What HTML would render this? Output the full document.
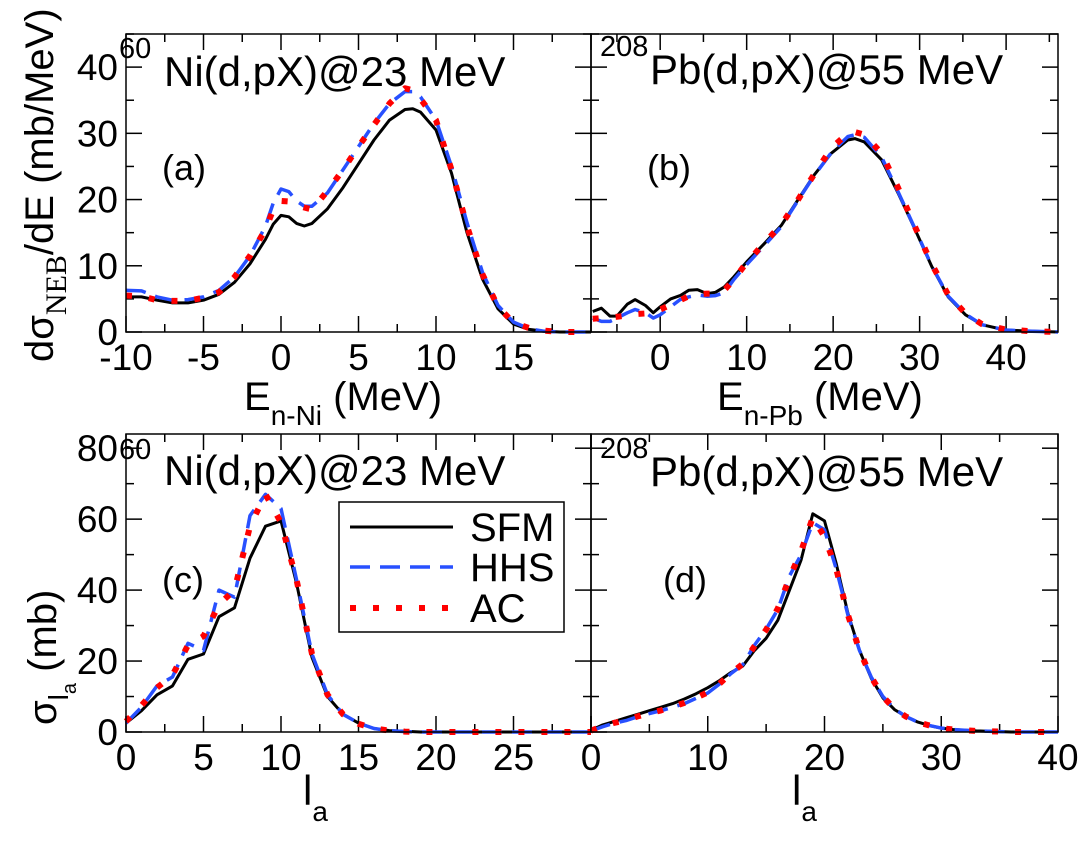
<!DOCTYPE html>
<html><head><meta charset="utf-8"><style>
html,body{margin:0;padding:0;background:#fff}
svg{display:block;font-family:"Liberation Sans",sans-serif}
</style></head><body>
<svg id="fig" width="1081" height="841" viewBox="0 0 1081 841">
<g id="layer"></g>
<g font-family="Liberation Sans, sans-serif" fill="#000">
  <text x="119" y="58" font-size="29">60</text>
  <text x="164" y="86" font-size="42">Ni(d,pX)@23 MeV</text>
  <text x="600" y="56" font-size="29">208</text>
  <text x="650" y="84" font-size="42">Pb(d,pX)@55 MeV</text>
  <text x="119" y="459" font-size="29">60</text>
  <text x="164" y="485" font-size="42">Ni(d,pX)@23 MeV</text>
  <text x="600" y="458" font-size="29">208</text>
  <text x="650" y="486" font-size="42">Pb(d,pX)@55 MeV</text>
  <text x="162" y="180" font-size="36">(a)</text>
  <text x="647" y="180" font-size="36">(b)</text>
  <text x="162" y="592" font-size="36">(c)</text>
  <text x="663" y="592" font-size="36">(d)</text>
  <text x="244" y="410" font-size="40">E<tspan font-size="28" dy="15">n-Ni</tspan><tspan dy="-15"> (MeV)</tspan></text>
  <text x="717" y="410" font-size="40">E<tspan font-size="28" dy="15">n-Pb</tspan><tspan dy="-15"> (MeV)</tspan></text>
  <text x="303" y="805" font-size="42">l<tspan font-size="28" dy="16">a</tspan></text>
  <text x="792" y="805" font-size="42">l<tspan font-size="28" dy="16">a</tspan></text>
  <text transform="translate(53,362) rotate(-90)" font-size="40">dσ<tspan font-family="Liberation Serif, serif" font-size="30" dy="13">NEB</tspan><tspan dy="-13">/dE (mb/MeV)</tspan></text>
  <text transform="translate(56,725) rotate(-90)" font-size="40">σ<tspan font-size="28" dy="12">l</tspan><tspan font-size="20" dy="8">a</tspan><tspan dy="-20">  (mb)</tspan></text>
  <g>
    <rect x="339" y="502" width="225" height="130" fill="#fff" stroke="#000" stroke-width="1.5"/>
    <line x1="350" y1="527" x2="453" y2="527" stroke="#000" stroke-width="3"/>
    <line x1="350" y1="567" x2="453" y2="567" stroke="#2850ff" stroke-width="3.5" stroke-dasharray="20 10"/>
    <line x1="350" y1="608" x2="453" y2="608" stroke="#ff0000" stroke-width="6" stroke-dasharray="6 17"/>
    <text x="470" y="541" font-size="40">SFM</text>
    <text x="470" y="581" font-size="40">HHS</text>
    <text x="470" y="622" font-size="40">AC</text>
  </g>
</g>
</svg>
<script>
// ---- data ----
const aX   = [-10,-9,-8,-7,-6,-5,-4,-3,-2,-1,-0.5,0,0.5,1,1.5,2,3,4,5,6,7,8,8.5,9,10,11,12,13,14,15,16,17,18,20];
const aSFM = [5.3,5.3,4.8,4.4,4.4,4.8,5.7,7.5,10.3,14,16.3,17.6,17.4,16.4,16.0,16.4,18.6,21.8,25.4,29,32,33.6,33.7,33.2,30.5,24,15,8,3.5,1.2,0.4,0.1,0,0];
const aHHS = [6.3,6.2,5.3,4.8,4.9,5.3,6.3,8.3,11.5,16,19.5,21.6,21.2,19.8,19,19,21,24.5,28,31.5,34.5,36.3,36.3,35.5,32,25,16.5,9,4,1.5,0.5,0.1,0,0];
const aAC  = [5.5,5.4,4.8,4.7,4.7,5.2,6,8.3,11.5,15.5,18.5,19.8,19.7,19.2,18.8,18.5,21.3,24.5,28,31.3,34.5,36.8,36.5,35.2,32,24.5,16,8.7,3.8,1.4,0.6,0.2,0,0];

const bX   = [-7.8,-6.8,-5.8,-5,-3.8,-2.9,-1.7,-0.8,0,1.2,2.3,3.3,4.3,5.4,6.4,7.4,8.5,10,12,14,15.9,17.8,19.8,21.7,22.5,23.6,25.6,27.5,29.5,31.4,33.3,35.3,37.2,39.9,43,46];
const bSFM = [3.1,3.6,2.4,2.4,4.2,4.9,4.0,2.9,3.8,5.0,5.5,6.3,6.4,5.8,6.0,6.8,8.3,10.6,13.3,16.1,19.9,23.7,27,29,29.2,28.7,26,21,15.4,9.9,5.3,2.6,1.1,0.3,0.1,0];
const bHHS = [2.1,1.6,1.6,2.1,2.9,3.4,2.9,2.1,2.6,3.8,4.9,5.3,5.6,5.4,5.5,5.9,7.9,10.2,13.0,15.9,19.8,23.6,27.1,29.5,29.8,29.4,26.4,21.2,15.5,10,5.4,2.7,1.1,0.3,0.1,0];
const bAC  = [2.0,2.1,2.2,2.3,2.5,2.7,2.8,3.0,3.4,4.1,4.8,5.4,5.7,5.8,5.8,6.3,7.9,10.5,13.4,16.2,19.9,23.8,27.8,30.0,30.2,29.8,27.0,21.8,15.8,10.3,5.6,2.8,1.2,0.4,0.1,0];

const cL   = [0,1,2,3,4,5,6,7,8,9,10,11,12,13,14,15,16,17,18,19,20,21,22,23,24,25,26,27,28,29,30];
const cSFM = [2.5,6,10.5,13,20.5,22,32.5,35,49,58,59.5,42,21,10,5,2.5,1,0.4,0.2,0,0,0,0,0,0,0,0,0,0,0,0];
const cHHS = [2.5,7,13,15.5,25,23,40,38,61,67,63,43,22,10.5,5,2.5,1,0.4,0.1,0,0,0,0,0,0,0,0,0,0,0,0];
const cAC  = [3,7.5,12.5,16,24.5,27,36,40,58,67,59,43,22,10.5,5,2.3,1,0.4,0.1,0,0,0,0,0,0,0,0,0,0,0,0];

const dL   = [0,1,2,3,4,5,6,7,8,9,10,11,12,13,14,15,16,17,18,19,20,21,22,23,24,25,26,27,28,29,30,31,32,33,34,35,36,37,38,39,40];
const dSFM = [0.5,2,3,4,5,6,7,8,9.3,10.8,12.5,14.5,16.8,18.6,23,26.4,31.5,40,48.5,61.5,59.5,47.5,33.5,23,15.2,9.6,6.3,4.3,2.8,1.8,1.1,0.7,0.5,0.3,0.2,0.1,0,0,0,0,0];
const dHHS = [0.3,1.5,2.5,3.2,4.3,5.2,6,7,8,9.5,11,13.5,16.5,19,24.5,29,34.5,44,50,59,57,46,33,23,15.5,10,6.5,4.3,2.8,1.8,1.1,0.7,0.5,0.3,0.2,0.1,0,0,0,0,0];
const dAC  = [0.4,1.6,2.6,3.3,4.4,5.3,6.1,7.1,8.2,9.6,11.2,13.6,16.6,19.2,24.2,28.8,34.8,43.5,51,60.5,55,46,33,23,15.5,10,6.5,4.3,2.8,1.8,1.1,0.7,0.5,0.3,0.2,0.1,0,0,0,0,0];

const aTicks = ["-10","-5","0","5","10","15"];
const bTicks = ["0","10","20","30","40"];
const cTicks = ["0","5","10","15","20","25"];
const dTicks = ["0","10","20","30","40"];
const abYTicks = ["0","10","20","30","40"];
const cdYTicks = ["0","20","40","60","80"];

const NS="http://www.w3.org/2000/svg";
const layer=document.getElementById('layer');
function mk(tag,attrs,parent){const e=document.createElementNS(NS,tag);for(const k in attrs)e.setAttribute(k,attrs[k]);(parent||layer).appendChild(e);return e;}

function panel(name,L,R,T,B,x0,x1,y0,y1,xMaj,xMin,yMaj,yMin,xLabels,yLabels,xs,series){
  const g=mk('g',{});
  
  
  const sx=v=>L+(v-x0)/(x1-x0)*(R-L);
  const sy=v=>B-(v-y0)/(y1-y0)*(B-T);
  for(let v=Math.ceil(x0/xMin)*xMin; v<=x1+1e-9; v+=xMin){
    const maj=Math.abs(v/xMaj-Math.round(v/xMaj))<1e-6, len=maj?16:8, X=sx(v);
    mk('line',{x1:X,y1:B,x2:X,y2:B-len,stroke:'#000','stroke-width':1.5},g);
    mk('line',{x1:X,y1:T,x2:X,y2:T+len,stroke:'#000','stroke-width':1.5},g);
  }
  for(let v=Math.ceil(y0/yMin)*yMin; v<=y1+1e-9; v+=yMin){
    const maj=Math.abs(v/yMaj-Math.round(v/yMaj))<1e-6, len=maj?16:8, Y=sy(v);
    mk('line',{x1:L,y1:Y,x2:L+len,y2:Y,stroke:'#000','stroke-width':1.5},g);
    mk('line',{x1:R,y1:Y,x2:R-len,y2:Y,stroke:'#000','stroke-width':1.5},g);
  }
  xLabels.forEach(s=>{const t=mk('text',{x:sx(+s),y:B+38,'font-size':37,'text-anchor':'middle'},g);t.textContent=s;
    
    });
  yLabels.forEach(s=>{const t=mk('text',{x:L-8,y:sy(+s)+13,'font-size':37,'text-anchor':'end'},g);t.textContent=s;
    
    });
  const styles={SFM:{stroke:'#000','stroke-width':3},HHS:{stroke:'#2850ff','stroke-width':3.5,'stroke-dasharray':'20 10'},AC:{stroke:'#ff0000','stroke-width':6,'stroke-dasharray':'6 17'}};
  ['SFM','HHS','AC'].forEach(k=>{
    const ys=series[k];
    const pts=xs.map((x,i)=>sx(x).toFixed(1)+','+sy(ys[i]).toFixed(1)).join(' ');
    const p=mk('polyline',Object.assign({points:pts,fill:'none','stroke-linejoin':'round'},styles[k]),g);
    
    
  });
  mk('rect',{x:L,y:T,width:R-L,height:B-T,fill:'none',stroke:'#000','stroke-width':1.5},g);
}
panel('panel-a',126,591,34,332,-10,20,0,45,5,2.5,10,5,aTicks,abYTicks,aX,{SFM:aSFM,HHS:aHHS,AC:aAC});
panel('panel-b',591,1058,34,332,-8,46,0,45,10,5,10,5,bTicks,[],bX,{SFM:bSFM,HHS:bHHS,AC:bAC});
panel('panel-c',126,591,434,732,0,30,0,84,5,2.5,20,10,cTicks,cdYTicks,cL,{SFM:cSFM,HHS:cHHS,AC:cAC});
panel('panel-d',591,1058,434,732,0,40,0,84,10,5,20,10,dTicks,[],dL,{SFM:dSFM,HHS:dHHS,AC:dAC});
</script>
</body></html>
